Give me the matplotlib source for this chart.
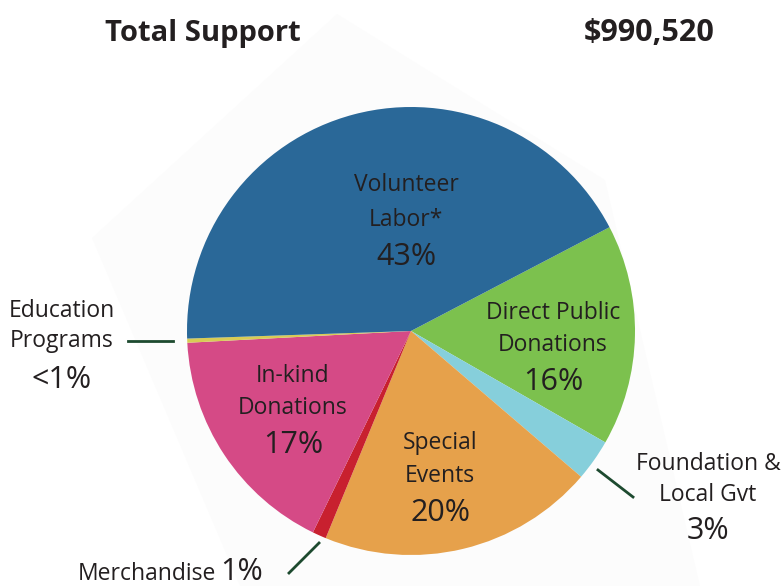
import matplotlib.pyplot as plt
from matplotlib.patches import Polygon

plt.rcParams['font.family'] = ['Open Sans', 'DejaVu Sans']

# Shares of total support (percent), clockwise from the Volunteer/Direct boundary
categories = ['Direct Public Donations', 'Foundation & Local Gvt', 'Special Events',
              'Merchandise', 'In-kind Donations', 'Education Programs', 'Volunteer Labor*']
shares = [16, 3, 20, 1, 17, 0.3, 43]
colors = ['#7cc14e', '#86cfdb', '#e6a14b', '#c8202f', '#d54a86', '#d8cc55', '#2a6898']

title_left = 'Total Support'
title_right = '$990,520'

W, H = 783, 586
fig = plt.figure(figsize=(W / 100, H / 100), dpi=100)
ax = fig.add_axes([0, 0, 1, 1])

def Y(py):
    # convert image row to data y
    return H - py

# faint paper shape behind the pie
ax.add_patch(Polygon([(92, Y(238)), (337, Y(14)), (605, Y(180)), (700, Y(586)), (240, Y(586))],
                     closed=True, facecolor='#fcfcfc', edgecolor='none', zorder=0))

cx, cy, r = 411, Y(331), 224
ax.pie(shares, colors=colors, startangle=27.6, counterclock=False,
       center=(cx, cy), radius=r, frame=True,
       wedgeprops=dict(linewidth=0, edgecolor='none'))
ax.set_xlim(0, W)
ax.set_ylim(0, H)
ax.set_aspect('equal')
ax.axis('off')

txt = '#231f20'
fig.text(105 / W, 1 - 33 / H, title_left, fontsize=21, fontweight='bold', color=txt,
         ha='left', va='center')
fig.text(715 / W, 1 - 33 / H, title_right, fontsize=22, fontweight='bold', color=txt,
         ha='right', va='center')

def label(x, lines, pct, y0, dy=33, pdy=37, fs=16.5, pfs=22):
    for i, s in enumerate(lines):
        ax.text(x, Y(y0 + i * dy), s, fontsize=fs, color=txt, ha='center', va='center')
    ax.text(x, Y(y0 + (len(lines) - 1) * dy + pdy), pct, fontsize=pfs, color=txt,
            ha='center', va='center')

label(406, ['Volunteer', 'Labor*'], '43%', 185, dy=35)
label(553, ['Direct Public', 'Donations'], '16%', 313, dy=32)
label(293, ['In-kind', 'Donations'], '17%', 376, dy=32)
label(440, ['Special', 'Events'], '20%', 443, dy=33)
label(62, ['Education', 'Programs'], '<1%', 311, dy=30, pdy=39)
label(708, ['Foundation &', 'Local Gvt'], '3%', 464, dy=31, pdy=36)

ax.text(216, Y(574), 'Merchandise', fontsize=16.5, color=txt, ha='right', va='center')
ax.text(263, Y(572), '1%', fontsize=22, color=txt, ha='right', va='center')

lc = '#1d4a2f'
ax.plot([128, 173], [Y(341), Y(341)], color=lc, lw=2)
ax.plot([289, 319], [Y(573), Y(543)], color=lc, lw=2)
ax.plot([598, 633], [Y(470), Y(497)], color=lc, lw=2)

fig.savefig('out.png', dpi=100)
